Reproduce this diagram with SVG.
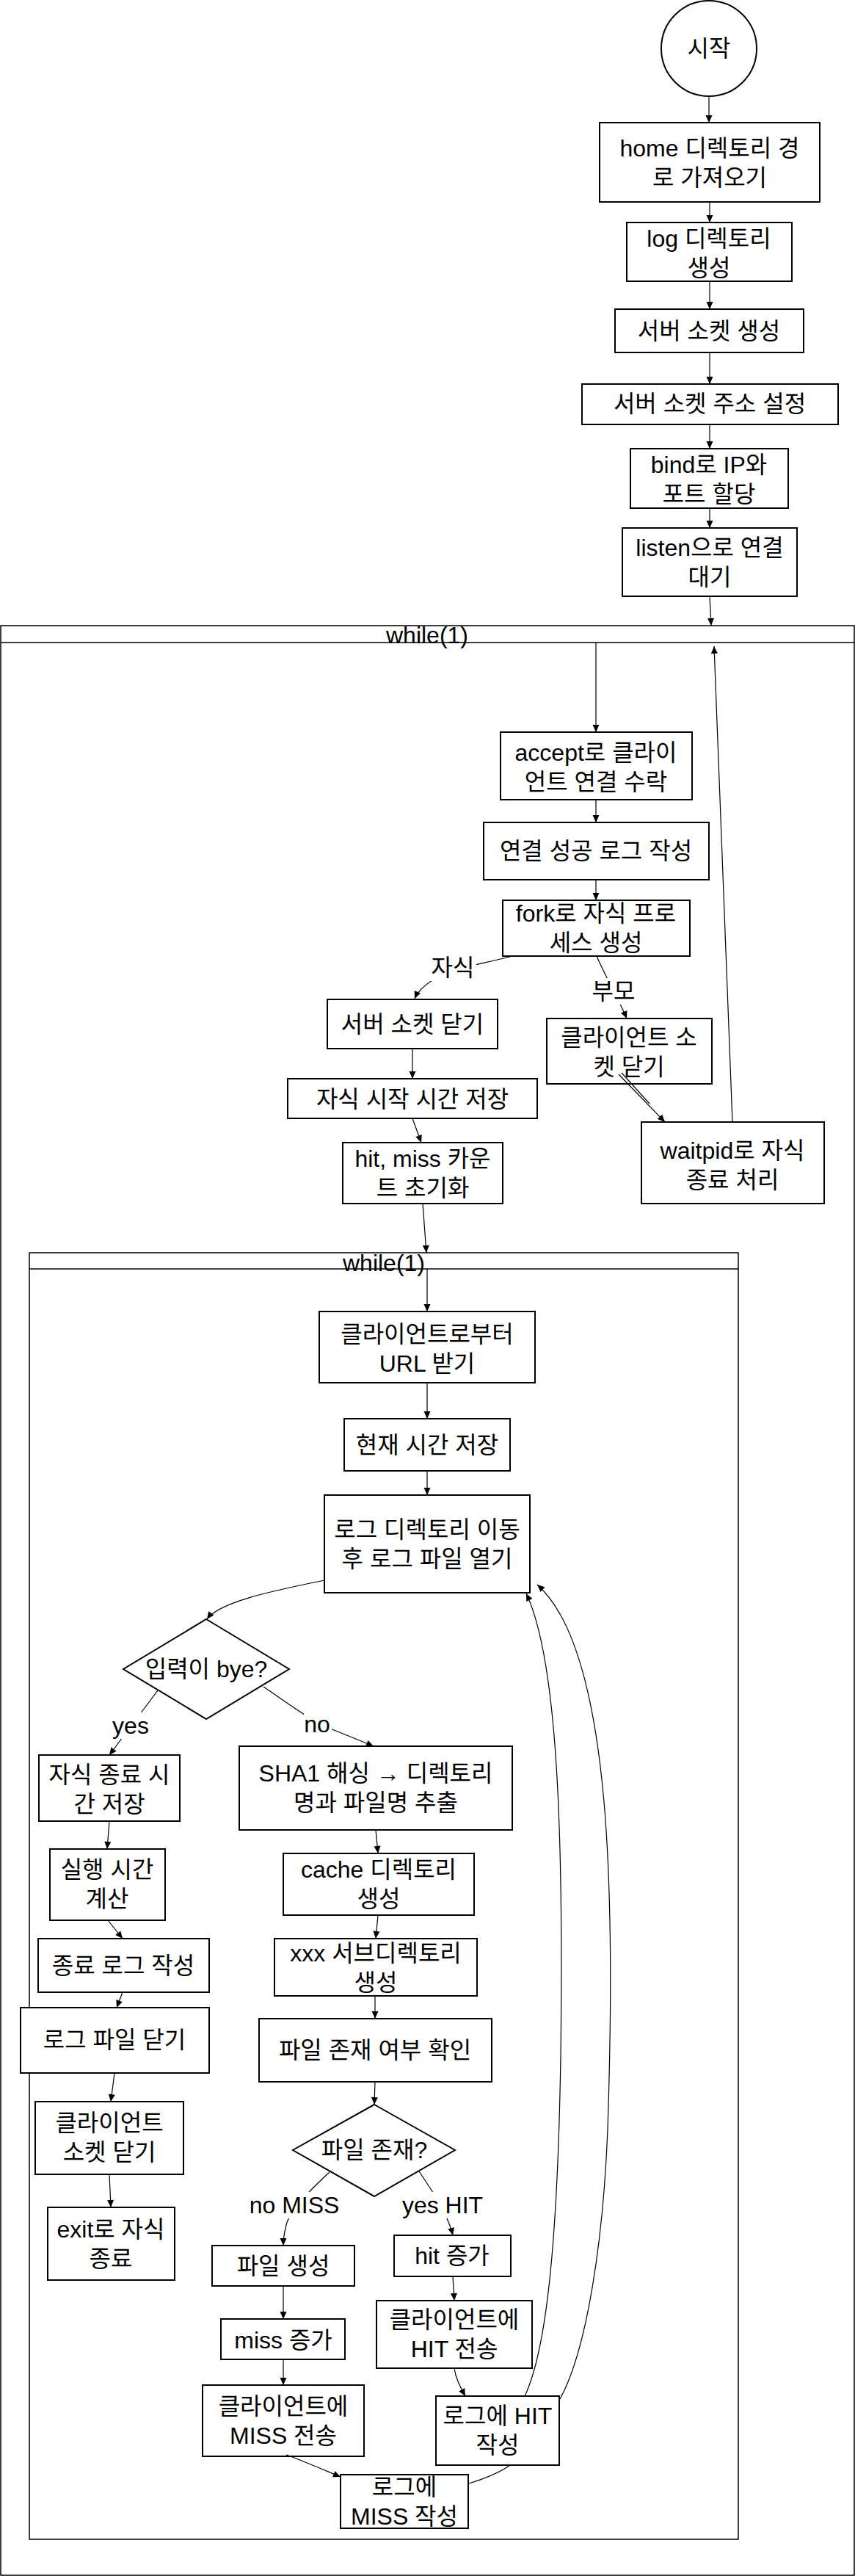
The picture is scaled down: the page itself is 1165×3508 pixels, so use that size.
<svg xmlns="http://www.w3.org/2000/svg" width="1165" height="3508" viewBox="0 0 1165 3508">
<style>
.n{fill:#fff;stroke:#000;stroke-width:2}
.f{fill:none;stroke:#000;stroke-width:1.5}
.t{font-family:"Liberation Sans","Noto Sans CJK KR",sans-serif;font-size:32px;fill:#000;text-anchor:middle}
.e{fill:none;stroke:#000;stroke-width:1.2;marker-end:url(#arr)}
.en{fill:none;stroke:#000;stroke-width:1.2}
.lb{fill:#fff;stroke:none}
</style>
<defs>
<marker id="arr" viewBox="0 0 10 10" refX="10" refY="5" markerWidth="11" markerHeight="10" markerUnits="userSpaceOnUse" orient="auto"><path d="M0,0.5 L10,5 L0,9.5 z" fill="#000"/></marker>
</defs>
<rect width="1165" height="3508" fill="#fff"/>

<g id="outer-loop">
<rect class="f" x="1" y="852" width="1163" height="2655"/>
<line class="f" x1="1" y1="875" x2="1164" y2="875"/>
<text class="t" x="582" y="876">while(1)</text>
</g>
<g id="inner-loop">
<rect class="f" x="40" y="1706" width="966" height="1752"/>
<line class="f" x1="40" y1="1728" x2="1006" y2="1728"/>
<text class="t" x="523" y="1731">while(1)</text>
</g>

<g id="start"><circle class="n" cx="966" cy="66" r="65" stroke-width="1.2"/><text class="t" x="966" y="77">시작</text></g>
<g id="home"><rect class="n" x="817" y="167" width="300" height="108"/><text class="t" x="967" y="213">home 디렉토리 경</text><text class="t" x="967" y="253">로 가져오기</text></g>
<g id="logdir"><rect class="n" x="854" y="303" width="225" height="80"/><text class="t" x="966" y="336">log 디렉토리</text><text class="t" x="966" y="376">생성</text></g>
<g id="sock"><rect class="n" x="838" y="421" width="257" height="59"/><text class="t" x="966" y="462">서버 소켓 생성</text></g>
<g id="addr"><rect class="n" x="793" y="523" width="349" height="55"/><text class="t" x="967" y="561">서버 소켓 주소 설정</text></g>
<g id="bind"><rect class="n" x="859" y="611" width="215" height="81"/><text class="t" x="966" y="644">bind로 IP와</text><text class="t" x="966" y="684">포트 할당</text></g>
<g id="listen"><rect class="n" x="848" y="719" width="238" height="93"/><text class="t" x="967" y="757">listen으로 연결</text><text class="t" x="967" y="797">대기</text></g>

<g id="accept"><rect class="n" x="682" y="997" width="261" height="92"/><text class="t" x="812" y="1036">accept로 클라이</text><text class="t" x="812" y="1076">언트 연결 수락</text></g>
<g id="connlog"><rect class="n" x="659" y="1120" width="307" height="78"/><text class="t" x="812" y="1170">연결 성공 로그 작성</text></g>
<g id="fork"><rect class="n" x="685" y="1226" width="255" height="76"/><text class="t" x="812" y="1255">fork로 자식 프로</text><text class="t" x="812" y="1295">세스 생성</text></g>
<g id="closesrv"><rect class="n" x="446" y="1361" width="232" height="67"/><text class="t" x="562" y="1406">서버 소켓 닫기</text></g>
<g id="closecli-p"><rect class="n" x="745" y="1387" width="225" height="89"/><text class="t" x="857" y="1424">클라이언트 소</text><text class="t" x="857" y="1464">켓 닫기</text></g>
<g id="waitpid"><rect class="n" x="874" y="1528" width="249" height="111"/><text class="t" x="998" y="1578">waitpid로 자식</text><text class="t" x="998" y="1618">종료 처리</text></g>
<g id="childstart"><rect class="n" x="392" y="1469" width="340" height="54"/><text class="t" x="562" y="1508">자식 시작 시간 저장</text></g>
<g id="hitmiss"><rect class="n" x="467" y="1556" width="218" height="83"/><text class="t" x="576" y="1589">hit, miss 카운</text><text class="t" x="576" y="1629">트 초기화</text></g>

<g id="url"><rect class="n" x="435" y="1786" width="294" height="97"/><text class="t" x="582" y="1828">클라이언트로부터</text><text class="t" x="582" y="1868">URL 받기</text></g>
<g id="now"><rect class="n" x="469" y="1932" width="226" height="71"/><text class="t" x="582" y="1979">현재 시간 저장</text></g>
<g id="openlog"><rect class="n" x="442" y="2036" width="280" height="133"/><text class="t" x="582" y="2094">로그 디렉토리 이동</text><text class="t" x="582" y="2134">후 로그 파일 열기</text></g>
<g id="isbye"><polygon class="n" points="281,2205 394,2273 281,2341 168,2273"/><text class="t" x="281" y="2284">입력이 bye?</text></g>
<g id="childend"><rect class="n" x="53" y="2390" width="192" height="90"/><text class="t" x="149" y="2428">자식 종료 시</text><text class="t" x="149" y="2468">간 저장</text></g>
<g id="sha1"><rect class="n" x="326" y="2378" width="372" height="114"/><text class="t" x="512" y="2426">SHA1 해싱 → 디렉토리</text><text class="t" x="512" y="2466">명과 파일명 추출</text></g>
<g id="runtime"><rect class="n" x="68" y="2518" width="157" height="97"/><text class="t" x="146" y="2557">실행 시간</text><text class="t" x="146" y="2597">계산</text></g>
<g id="cache"><rect class="n" x="386" y="2524" width="260" height="84"/><text class="t" x="516" y="2557">cache 디렉토리</text><text class="t" x="516" y="2597">생성</text></g>
<g id="endlog"><rect class="n" x="52" y="2640" width="233" height="73"/><text class="t" x="168" y="2688">종료 로그 작성</text></g>
<g id="closelog"><rect class="n" x="28" y="2734" width="257" height="89"/><text class="t" x="156" y="2789">로그 파일 닫기</text></g>
<g id="closecli-c"><rect class="n" x="48" y="2862" width="202" height="99"/><text class="t" x="149" y="2902">클라이언트</text><text class="t" x="149" y="2942">소켓 닫기</text></g>
<g id="exit"><rect class="n" x="65" y="3006" width="173" height="99"/><text class="t" x="151" y="3047">exit로 자식</text><text class="t" x="151" y="3087">종료</text></g>
<g id="subdir"><rect class="n" x="374" y="2640" width="276" height="78"/><text class="t" x="512" y="2671">xxx 서브디렉토리</text><text class="t" x="512" y="2711">생성</text></g>
<g id="exists"><rect class="n" x="353" y="2749" width="317" height="86"/><text class="t" x="511" y="2803">파일 존재 여부 확인</text></g>
<g id="isfile"><polygon class="n" points="510,2866 620,2928 510,2991 399,2928"/><text class="t" x="510" y="2939">파일 존재?</text></g>
<g id="mkfile"><rect class="n" x="289" y="3058" width="194" height="55"/><text class="t" x="386" y="3097">파일 생성</text></g>
<g id="hitinc"><rect class="n" x="537" y="3044" width="159" height="56"/><text class="t" x="616" y="3083">hit 증가</text></g>
<g id="missinc"><rect class="n" x="301" y="3158" width="169" height="55"/><text class="t" x="386" y="3198">miss 증가</text></g>
<g id="sendmiss"><rect class="n" x="276" y="3248" width="220" height="97"/><text class="t" x="386" y="3288">클라이언트에</text><text class="t" x="386" y="3328">MISS 전송</text></g>
<g id="sendhit"><rect class="n" x="513" y="3133" width="212" height="92"/><text class="t" x="619" y="3170">클라이언트에</text><text class="t" x="619" y="3210">HIT 전송</text></g>
<g id="loghit"><rect class="n" x="594" y="3263" width="168" height="94"/><text class="t" x="678" y="3301">로그에 HIT</text><text class="t" x="678" y="3341">작성</text></g>
<g id="logmiss"><rect class="n" x="464" y="3370" width="174" height="73"/><text class="t" x="551" y="3398">로그에</text><text class="t" x="551" y="3438">MISS 작성</text></g>

<g id="connectors">
<path class="e" d="M966,131 L966,167"/>
<path class="e" d="M967,275 L967,303"/>
<path class="e" d="M967,383 L967,421"/>
<path class="e" d="M967,480 L967,523"/>
<path class="e" d="M967,578 L967,611"/>
<path class="e" d="M967,692 L967,719"/>
<path class="e" d="M967,812 L969,852"/>
<path class="e" d="M812,875 L812,997"/>
<path class="e" d="M812,1089 L812,1120"/>
<path class="e" d="M812,1198 L812,1226"/>
<path class="e" d="M698,1302 C660,1312 622,1318 605,1326 C585,1336 570,1348 565,1360"/>
<path class="e" d="M813,1302 C825,1330 845,1365 854,1387"/>
<path class="e" d="M843,1463 L906,1528"/>
<path class="en" d="M847,1461 L885,1503"/>
<path class="e" d="M998,1528 L973,880" stroke-width="2"/>
<path class="e" d="M562,1428 L562,1469"/>
<path class="e" d="M562,1523 L574,1556"/>
<path class="e" d="M576,1639 L581,1706"/>
<path class="e" d="M582,1728 L582,1786"/>
<path class="e" d="M582,1883 L582,1932"/>
<path class="e" d="M582,2003 L582,2036"/>
<path class="e" d="M442,2152 C380,2165 300,2180 282,2205"/>
<path class="e" d="M215,2302 L149,2390"/>
<path class="e" d="M359,2297 C390,2318 420,2340 440,2350 C470,2362 495,2372 509,2378"/>
<path class="e" d="M149,2480 L146,2518"/>
<path class="e" d="M512,2492 L515,2524"/>
<path class="e" d="M147,2615 L167,2640"/>
<path class="e" d="M167,2713 L159,2734"/>
<path class="e" d="M156,2823 L151,2862"/>
<path class="e" d="M149,2961 L151,3006"/>
<path class="e" d="M515,2608 L512,2640"/>
<path class="e" d="M511,2718 L511,2749"/>
<path class="e" d="M511,2835 L510,2866"/>
<path class="e" d="M449,2958 C420,2985 395,3010 390,3030 C386,3045 386,3052 386,3058"/>
<path class="e" d="M571,2957 C590,2985 610,3015 617,3044"/>
<path class="e" d="M386,3113 L386,3158"/>
<path class="e" d="M386,3213 L386,3248"/>
<path class="e" d="M617,3100 L619,3133"/>
<path class="e" d="M619,3225 C621,3240 628,3252 634,3263"/>
<path class="e" d="M390,3343 C410,3350 440,3363 464,3373"/>
<path class="e" d="M715,3263 C745,3200 760,3050 764,2800 C768,2500 760,2260 717,2170"/>
<path class="en" d="M639,3382 C655,3377 680,3368 695,3357"/>
<path class="e" d="M763,3267 C800,3200 822,3050 828,2900 C838,2600 836,2250 732,2158"/>
<rect class="lb" x="585" y="1300" width="64" height="36"/>
<text class="t" x="617" y="1329">자식</text>
<rect class="lb" x="804" y="1332" width="64" height="36"/>
<text class="t" x="836" y="1361">부모</text>
<rect class="lb" x="154" y="2332" width="50" height="36"/>
<text class="t" x="178" y="2361">yes</text>
<rect class="lb" x="414" y="2330" width="38" height="36"/>
<text class="t" x="432" y="2359">no</text>
<rect class="lb" x="337" y="2985" width="128" height="36"/>
<text class="t" x="401" y="3014">no MISS</text>
<rect class="lb" x="546" y="2985" width="114" height="36"/>
<text class="t" x="603" y="3014">yes HIT</text>
</g>
</svg>
